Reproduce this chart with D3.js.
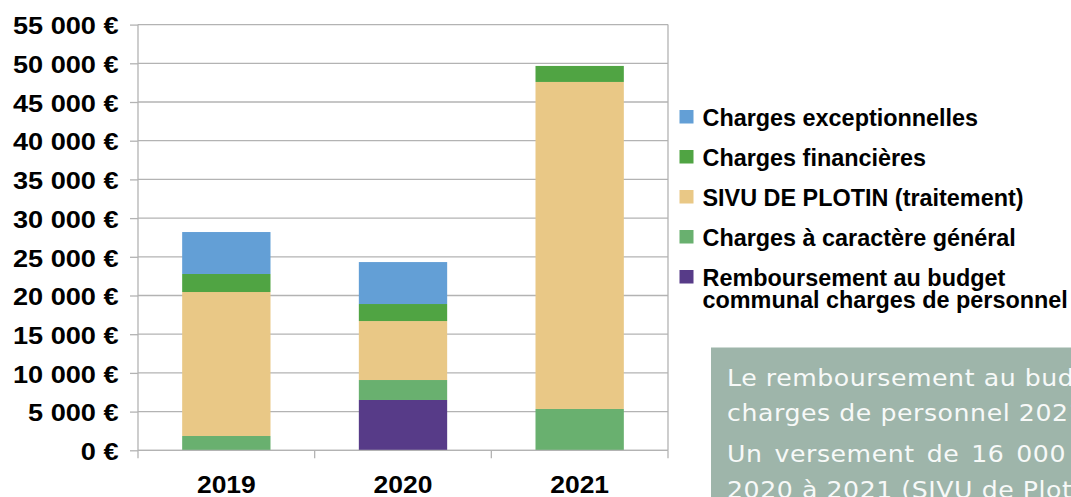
<!DOCTYPE html>
<html>
<head>
<meta charset="utf-8">
<script src="https://cdn.jsdelivr.net/npm/d3@7"></script>
<style>
  body { margin: 0; background: #fff; }
  svg { display: block; }
</style>
</head>
<body>
<svg id="chart" width="1071" height="497"></svg>
<script>
// years on the x axis
const years = ["2019", "2020", "2021"];
// series, bottom to top in the stack
const seriesNames = [
  "Remboursement au budget communal charges de personnel",
  "Charges à caractère général",
  "SIVU DE PLOTIN (traitement)",
  "Charges financières",
  "Charges exceptionnelles"
];
const rembourse = [0, 6500, 0];
const chargesGenerales = [1850, 2580, 5340];
const sivu = [18600, 7620, 42250];
const financieres = [2330, 2200, 2070];
const exceptionnelles = [5420, 5420, 0];
const yTicks = [0, 5000, 10000, 15000, 20000, 25000, 30000, 35000, 40000, 45000, 50000, 55000];

const colors = ["#573b88", "#69b06f", "#e9c886", "#50a443", "#639fd6"];

const rows = years.map((yr, i) => ({
  year: yr,
  s0: rembourse[i], s1: chargesGenerales[i], s2: sivu[i], s3: financieres[i], s4: exceptionnelles[i]
}));
const keys = ["s0", "s1", "s2", "s3", "s4"];
const stacked = d3.stack().keys(keys)(rows);

const svg = d3.select("#chart");
const plotLeft = 138, plotRight = 668, plotTop = 24.6, plotBottom = 450.3;
const labelFont = "Liberation Sans, Arial, sans-serif";

const x = d3.scaleBand().domain(years).range([plotLeft, plotRight]).paddingInner(0.5).paddingOuter(0.25);
const y = d3.scaleLinear().domain([0, 55000]).range([plotBottom, plotTop]);

// grid lines
svg.append("g").selectAll("line").data(yTicks).join("line")
  .attr("x1", plotLeft).attr("x2", plotRight)
  .attr("y1", d => y(d)).attr("y2", d => y(d))
  .attr("stroke", "#b3b3b3").attr("stroke-width", 1.3);

// right border
svg.append("line").attr("x1", plotRight).attr("x2", plotRight).attr("y1", plotTop).attr("y2", plotBottom)
  .attr("stroke", "#b3b3b3").attr("stroke-width", 1.3);

// bars
svg.append("g").selectAll("g").data(stacked).join("g")
  .attr("fill", (d, i) => colors[i])
  .selectAll("rect").data(d => d).join("rect")
    .attr("x", d => x(d.data.year))
    .attr("width", x.bandwidth())
    .attr("y", d => y(d[1]))
    .attr("height", d => y(d[0]) - y(d[1]));

// y axis
const fmt = v => d3.format(",")(v).replace(/,/g, " ") + " €";
const yAxis = svg.append("g").attr("transform", `translate(${plotLeft},0)`)
  .call(d3.axisLeft(y).tickValues(yTicks).tickSize(8).tickPadding(8.5).tickFormat(fmt));
yAxis.selectAll("line, path").attr("stroke", "#b3b3b3").attr("stroke-width", 1.3);
yAxis.select(".domain").attr("d", `M0,${plotTop}V${plotBottom}`);
yAxis.selectAll("text")
  .attr("font-family", labelFont)
  .attr("font-size", 23).attr("font-weight", "bold").attr("fill", "#000")
  .attr("transform", "scale(1.18,1)")
  .attr("dy", "0.4em");

// x axis
const xAxis = svg.append("g").attr("transform", `translate(0,${plotBottom})`)
  .call(d3.axisBottom(x).tickSize(0));
xAxis.select(".domain").attr("stroke", "#b3b3b3").attr("stroke-width", 1.3)
  .attr("d", `M${plotLeft},0H${plotRight}`);
xAxis.selectAll("text")
  .attr("font-family", labelFont)
  .attr("font-size", 23).attr("font-weight", "bold").attr("fill", "#000")
  .attr("transform", "scale(1.15,1)")
  .attr("y", 43).attr("dy", 0);
// tick marks between categories
const sep = [plotLeft, (x("2019") + x.bandwidth() + x("2020")) / 2, (x("2020") + x.bandwidth() + x("2021")) / 2, plotRight];
svg.append("g").selectAll("line").data(sep).join("line")
  .attr("x1", d => d).attr("x2", d => d)
  .attr("y1", plotBottom).attr("y2", plotBottom + 8)
  .attr("stroke", "#b3b3b3").attr("stroke-width", 1.3);

// legend (top series first)
const legendItems = [
  { label: ["Charges exceptionnelles"], color: colors[4] },
  { label: ["Charges financières"], color: colors[3] },
  { label: ["SIVU DE PLOTIN (traitement)"], color: colors[2] },
  { label: ["Charges à caractère général"], color: colors[1] },
  { label: ["Remboursement au budget", "communal charges de personnel"], color: colors[0] }
];
const legend = svg.append("g").selectAll("g").data(legendItems).join("g")
  .attr("transform", (d, i) => `translate(679.5,${117 + i * 40})`);
legend.append("rect").attr("x", 0).attr("y", -7).attr("width", 14).attr("height", 13.5)
  .attr("fill", d => d.color);
legend.append("text")
  .attr("font-family", labelFont)
  .attr("font-size", 23.4).attr("font-weight", "bold").attr("fill", "#000")
  .selectAll("tspan").data(d => d.label).join("tspan")
    .attr("x", 23).attr("y", (d, i) => i * 22.5).attr("dy", 8.5)
    .text(d => d);

// note box
svg.append("rect").attr("x", 711).attr("y", 347.5).attr("width", 400).attr("height", 160)
  .attr("fill", "#9eb5aa");
const note = [
  { t: "Le remboursement au budget communal des", y: 386.5, ws: 0 },
  { t: "charges de personnel 2021 n'a pas été effectué.", y: 421.5, ws: 0 },
  { t: "Un versement de 16 000 € a été effectué de", y: 462.5, ws: 3 },
  { t: "2020 à 2021 (SIVU de Plotin)", y: 498, ws: 0 }
];
svg.append("g").attr("transform", "translate(727,0) scale(1.12,1)")
  .selectAll("text").data(note).join("text")
  .attr("x", 0).attr("y", d => d.y)
  .attr("font-family", "DejaVu Sans, sans-serif")
  .attr("font-size", 22.5).attr("fill", "#f7f9f8")
  .attr("letter-spacing", 0.5)
  .attr("word-spacing", d => d.ws)
  .text(d => d.t);
</script>
</body>
</html>
